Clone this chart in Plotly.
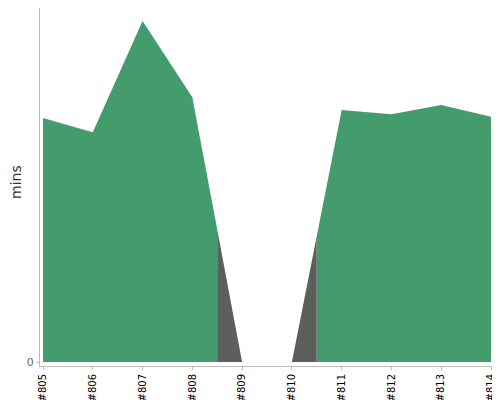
import plotly.graph_objects as go

builds = [805, 806, 807, 808, 809, 810, 811, 812, 813, 814]
tick_labels = ["#805", "#806", "#807", "#808", "#809", "#810", "#811", "#812", "#813", "#814"]
durations = [7.18, 6.76, 10.03, 7.79, 0.0, 0.0, 7.41, 7.29, 7.56, 7.21]
status = ["ok", "ok", "ok", "ok", "bad", "bad", "ok", "ok", "ok", "ok"]
y_title = "mins"

colors = {"ok": "#449c6d", "bad": "#5e5e5e"}

fig = go.Figure()

# group consecutive builds with same status; each build owns half the interval on each side
n = len(builds)
groups = []
start = 0
for i in range(1, n + 1):
    if i == n or status[i] != status[start]:
        groups.append((start, i - 1))
        start = i

for a, b in groups:
    xs, ys = [], []
    if a > 0:
        xs.append((builds[a - 1] + builds[a]) / 2)
        ys.append((durations[a - 1] + durations[a]) / 2)
    for k in range(a, b + 1):
        xs.append(builds[k])
        ys.append(durations[k])
    if b < n - 1:
        xs.append((builds[b] + builds[b + 1]) / 2)
        ys.append((durations[b] + durations[b + 1]) / 2)
    fig.add_trace(go.Scatter(
        x=xs, y=ys, mode="lines", fill="tozeroy",
        line=dict(width=0, color=colors[status[a]]),
        fillcolor=colors[status[a]], hoverinfo="skip", showlegend=False))

fig.add_annotation(
    text=y_title, xref="paper", yref="paper", x=0, y=0.5,
    xanchor="center", yanchor="middle", xshift=-24, yshift=5,
    textangle=-90, showarrow=False,
    font=dict(family="DejaVu Sans", size=14, color="#333"),
)

px_per_unit = 34.0
fig.update_layout(
    width=492, height=392,
    margin=dict(l=32, r=2, t=0, b=34, autoexpand=False),
    paper_bgcolor="white", plot_bgcolor="white",
    font=dict(family="DejaVu Sans", size=10, color="#000"),
    xaxis=dict(
        range=[805 - 3 / 49.78, 814 + 7 / 49.78],
        tickvals=builds, ticktext=tick_labels, tickangle=-90,
        showgrid=False, zeroline=False, showline=True, linecolor="#bbbbbb", linewidth=1,
        ticks="outside", ticklen=3, tickcolor="#bbbbbb",
        tickfont=dict(size=10, color="#000"), automargin=False,
    ),
    yaxis=dict(
        range=[-4 / px_per_unit, 354 / px_per_unit],
        tickvals=[0], ticktext=["0"],
        showgrid=False, zeroline=False, showline=True, linecolor="#bbbbbb", linewidth=1,
        ticks="outside", ticklen=3, tickcolor="#bbbbbb",
        tickfont=dict(size=11, color="#666"), automargin=False,
    ),
)

fig.write_html("out.html")
